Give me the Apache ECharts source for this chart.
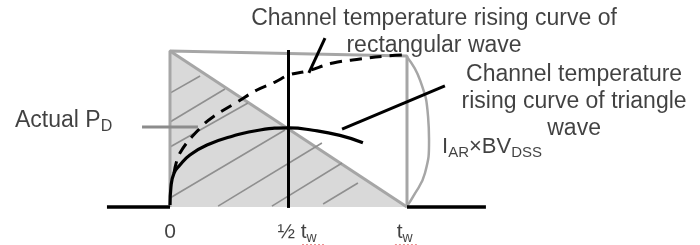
<!DOCTYPE html>
<html>
<head>
<meta charset="utf-8">
<script src="https://cdn.jsdelivr.net/npm/echarts@6.0.0/dist/echarts.min.js"></script>
<style>
  html, body { margin: 0; padding: 0; background: #fff; }
  #chart { width: 700px; height: 245px; }
</style>
</head>
<body>
<div id="chart"></div>
<script>
  // time in units of tw, power / temperature in units of IAR x BVDSS
  const baselineLeft = [[-0.266, 0], [0, 0]];
  const baselineRight = [[1.0, 0], [1.333, 0]];
  const trianglePd = [[0, 1.006], [1.0, 0]];
  const rectOutline = [[0, 0], [0, 1.006], [1.0, 0.974], [1.0, 0]];
  const rectArc = [[1.0, 0.968], [1.055, 0.819], [1.089, 0.581], [1.093, 0.432], [1.076, 0.219], [1.025, 0.065], [1.0, 0.006]];
  const hatchLines = [
    [[0, 0.735], [0.127, 0.845]],
    [[0, 0.548], [0.232, 0.761]],
    [[0, 0.387], [0.329, 0.671]],
    [[0, 0.058], [0.485, 0.497]],
    [[0.203, 0.006], [0.641, 0.413]],
    [[0.430, 0.006], [0.726, 0.284]],
    [[0.646, 0.019], [0.793, 0.155]]
  ];
  const triangleTemp = [[0, 0.013], [0.004, 0.13], [0.017, 0.219], [0.042, 0.271], [0.084, 0.335], [0.156, 0.4],
    [0.266, 0.458], [0.38, 0.497], [0.502, 0.51], [0.603, 0.495], [0.717, 0.462], [0.814, 0.415]];
  const rectTemp = [[0.017, 0.219], [0.042, 0.348], [0.127, 0.51], [0.181, 0.581], [0.283, 0.677], [0.367, 0.755],
    [0.443, 0.806], [0.502, 0.852], [0.578, 0.877], [0.688, 0.929], [0.802, 0.955], [0.916, 0.974], [0.992, 0.981]];
  const halfLine = [[0.5, -0.006], [0.5, 1.013]];
  const pdPointer = [[-0.118, 0.516], [0.118, 0.516]];
  const triPointer = [[0.726, 0.503], [1.16, 0.781]];
  const rectPointer = [[0.586, 0.865], [0.654, 1.09]];
  const spellMarks = [[[0.557, -0.245], [0.654, -0.245]], [[0.949, -0.245], [1.042, -0.245]]];

  const noteTexts = [
    'Channel temperature rising curve of\nrectangular wave',
    'Channel temperature\nrising curve of triangle\nwave',
    'Actual P{sub|D}'
  ];
  const notePoints = [[1.114, 1.129], [1.705, 0.677], [-0.654, 0.555]];
  const noteAlign = ['center', 'center', 'left'];
  const productText = ['I{sub|AR}×BV{sub|DSS}'];
  const productPoint = [[1.148, 0.387]];
  const tickLabels = ['0', '½ t{sub|w}', 't{sub|w}'];
  const tickPoints = [[0, -0.165], [0.536, -0.165], [0.99, -0.165]];

  const FONT = '"Liberation Sans", Arial, sans-serif';
  const TEXT_COLOR = '#111';
  const GRAY = '#a6a6a6';

  function seg(data, color, width, extra) {
    return Object.assign({
      type: 'line',
      data: data,
      symbol: 'none',
      silent: true,
      lineStyle: { color: color, width: width, cap: 'butt' }
    }, extra || {});
  }

  function textItems(texts, points, aligns, size) {
    return texts.map((t, i) => ({
      value: points[i],
      label: {
        show: true,
        formatter: t,
        position: [0, 0],
        align: aligns[i],
        verticalAlign: 'middle',
        fontFamily: FONT,
        fontSize: size,
        lineHeight: size + 4,
        color: TEXT_COLOR,
        rich: {
          sub: {
            fontFamily: FONT,
            fontSize: Math.round(size * 0.68),
            lineHeight: 12,
            verticalAlign: 'bottom',
            color: TEXT_COLOR
          }
        }
      }
    }));
  }

  const chart = echarts.init(document.getElementById('chart'));

  const series = [
    seg(trianglePd, GRAY, 3, { areaStyle: { color: '#d9d9d9', opacity: 1 } }),
    ...hatchLines.map(h => seg(h, '#8f8f8f', 1.6)),
    seg(rectOutline, GRAY, 3),
    seg(rectArc, GRAY, 2.5, { smooth: 0.5 }),
    seg(baselineLeft, '#000', 3.5),
    seg(baselineRight, '#000', 3.5),
    seg(rectTemp, '#000', 3, { smooth: 0.4, lineStyle: { color: '#000', width: 3, type: [12, 8] } }),
    seg(triangleTemp, '#000', 3.2, { smooth: 0.5 }),
    seg(halfLine, '#000', 3),
    seg(pdPointer, '#8c8c8c', 3),
    seg(triPointer, '#000', 3),
    seg(rectPointer, '#000', 3),
    ...spellMarks.map(m => seg(m, '#e05050', 1.2, { lineStyle: { color: '#e05050', width: 1.2, type: [2, 2] } })),
    {
      type: 'scatter',
      symbolSize: 0,
      silent: true,
      data: textItems(noteTexts, notePoints, noteAlign, 23)
        .concat(textItems(productText, productPoint, ['left'], 22))
        .concat(textItems(tickLabels, tickPoints, ['center', 'center', 'center'], 21))
    }
  ];

  chart.setOption({
    animation: false,
    grid: { left: 0, right: 0, top: 0, bottom: 0 },
    xAxis: { type: 'value', min: -0.7173, max: 2.2363, show: false },
    yAxis: { type: 'value', min: -0.2452, max: 1.3355, show: false },
    series: series
  });
</script>
</body>
</html>
